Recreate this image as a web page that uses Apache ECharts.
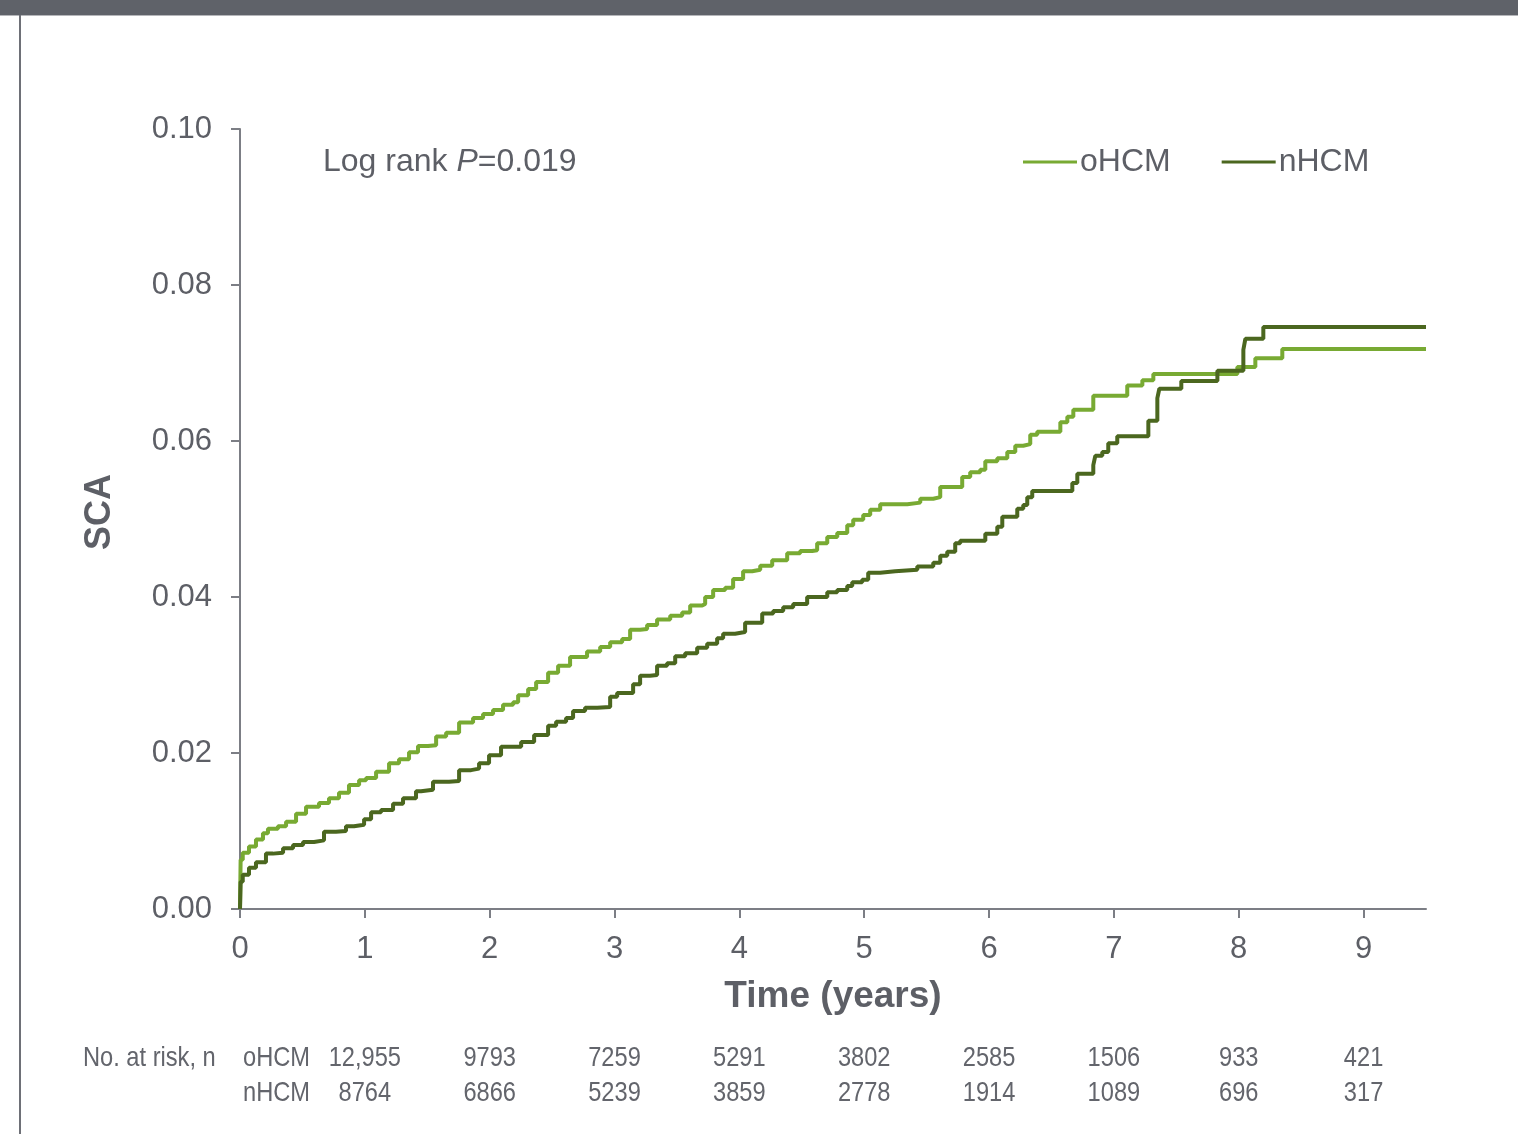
<!DOCTYPE html>
<html>
<head>
<meta charset="utf-8">
<script src="https://cdn.jsdelivr.net/npm/echarts@6/dist/echarts.min.js"></script>
<style>
html,body{margin:0;padding:0;background:#fff;}
#c{width:1518px;height:1134px;}
</style>
</head>
<body>
<div id="c"></div>
<script>
// ---- Data ----
const oTime = [0, 0.005, 0.022, 0.072, 0.128, 0.184, 0.224, 0.304, 0.369, 0.449, 0.529, 0.633, 0.713, 0.793, 0.873, 0.954, 1.010, 1.090, 1.194, 1.274, 1.354, 1.426, 1.506, 1.571, 1.651, 1.755, 1.867, 1.947, 2.027, 2.107, 2.188, 2.228, 2.308, 2.372, 2.468, 2.548, 2.644, 2.780, 2.885, 2.965, 3.061, 3.125, 3.205, 3.261, 3.341, 3.446, 3.542, 3.606, 3.702, 3.726, 3.790, 3.886, 3.950, 4.030, 4.103, 4.167, 4.263, 4.383, 4.487, 4.583, 4.623, 4.704, 4.784, 4.864, 4.912, 4.992, 5.048, 5.128, 5.345, 5.449, 5.553, 5.609, 5.785, 5.849, 5.929, 5.970, 6.066, 6.146, 6.210, 6.274, 6.330, 6.386, 6.571, 6.627, 6.675, 6.835, 7.107, 7.228, 7.316, 7.989, 8.133, 8.349, 9.5];
const oSCA = [0, 0.0063, 0.0072, 0.0080, 0.0089, 0.0097, 0.0103, 0.0106, 0.0112, 0.0122, 0.0131, 0.0136, 0.0142, 0.0149, 0.0159, 0.0165, 0.0168, 0.0176, 0.0187, 0.0192, 0.0201, 0.0209, 0.0210, 0.0221, 0.0226, 0.0239, 0.0245, 0.0250, 0.0255, 0.0262, 0.0265, 0.0274, 0.0282, 0.0291, 0.0303, 0.0312, 0.0323, 0.0330, 0.0336, 0.0342, 0.0346, 0.0358, 0.0359, 0.0364, 0.0371, 0.0376, 0.0380, 0.0389, 0.0391, 0.0400, 0.0409, 0.0412, 0.0423, 0.0433, 0.0435, 0.0440, 0.0447, 0.0456, 0.0459, 0.0460, 0.0469, 0.0477, 0.0482, 0.0492, 0.0499, 0.0505, 0.0512, 0.0519, 0.0521, 0.0526, 0.0528, 0.0541, 0.0554, 0.0560, 0.0563, 0.0574, 0.0578, 0.0586, 0.0594, 0.0596, 0.0608, 0.0612, 0.0624, 0.0631, 0.0640, 0.0658, 0.0671, 0.0678, 0.0686, 0.0695, 0.0706, 0.0718, 0.0718];

const nTime = [0, 0.005, 0.022, 0.072, 0.128, 0.208, 0.264, 0.345, 0.425, 0.505, 0.593, 0.673, 0.769, 0.849, 0.913, 0.994, 1.050, 1.130, 1.226, 1.306, 1.410, 1.450, 1.546, 1.675, 1.755, 1.851, 1.915, 1.995, 2.091, 2.252, 2.356, 2.468, 2.532, 2.612, 2.668, 2.764, 2.861, 2.965, 3.021, 3.149, 3.205, 3.285, 3.341, 3.421, 3.486, 3.566, 3.662, 3.742, 3.822, 3.870, 3.966, 4.046, 4.183, 4.271, 4.351, 4.431, 4.543, 4.704, 4.784, 4.864, 4.904, 4.984, 5.032, 5.128, 5.248, 5.425, 5.553, 5.609, 5.665, 5.729, 5.769, 5.970, 6.066, 6.106, 6.226, 6.274, 6.306, 6.346, 6.667, 6.707, 6.835, 6.851, 6.907, 6.955, 7.027, 7.276, 7.348, 7.364, 7.540, 7.829, 8.037, 8.053, 8.197, 9.5];
const nSCA = [0, 0.0035, 0.0044, 0.0053, 0.0060, 0.0071, 0.0072, 0.0078, 0.0082, 0.0086, 0.0088, 0.0099, 0.0100, 0.0106, 0.0108, 0.0115, 0.0124, 0.0127, 0.0135, 0.0142, 0.0151, 0.0153, 0.0163, 0.0164, 0.0178, 0.0180, 0.0187, 0.0197, 0.0208, 0.0214, 0.0223, 0.0235, 0.0240, 0.0245, 0.0254, 0.0258, 0.0259, 0.0272, 0.0277, 0.0288, 0.0299, 0.0300, 0.0312, 0.0315, 0.0324, 0.0328, 0.0335, 0.0340, 0.0347, 0.0353, 0.0355, 0.0367, 0.0379, 0.0382, 0.0387, 0.0391, 0.0400, 0.0406, 0.0409, 0.0414, 0.0419, 0.0422, 0.0431, 0.0433, 0.0435, 0.0439, 0.0444, 0.0453, 0.0458, 0.0469, 0.0472, 0.0481, 0.0490, 0.0503, 0.0513, 0.0518, 0.0528, 0.0536, 0.0546, 0.0558, 0.0569, 0.0581, 0.0586, 0.0597, 0.0606, 0.0626, 0.0655, 0.0667, 0.0677, 0.0690, 0.0717, 0.0731, 0.0746, 0.0746];

const seriesNames = ['oHCM', 'nHCM'];
const xTicks = [0, 1, 2, 3, 4, 5, 6, 7, 8, 9];
const riskColumns = [1, 2, 3, 4, 5, 6, 7, 8, 9];   // x positions of the risk table columns
const riskO = ['12,955', '9793', '7259', '5291', '3802', '2585', '1506', '933', '421'];
const riskN = ['8764', '6866', '5239', '3859', '2778', '1914', '1089', '696', '317'];
const pText = '0.019';

const GREY = '#5d5f66';
const AXIS = '#7c7e85';
const C_O = '#78aa33';
const C_N = '#4b671f';
const FONT = 'Liberation Sans, Arial, sans-serif';

const zip = (a, b) => a.map((t, i) => [t, b[i]]);

const chart = echarts.init(document.getElementById('c'), null, {renderer: 'canvas'});

const option = {
  backgroundColor: '#ffffff',
  animation: false,
  textStyle: {fontFamily: FONT},
  grid: {left: 240, right: 92, top: 129, bottom: 225, containLabel: false},
  legend: {
    data: seriesNames,
    left: 1023, top: 146, padding: 0,
    icon: 'rect', itemWidth: 54, itemHeight: 3, itemGap: 51,
    textStyle: {color: GREY, fontSize: 32, fontFamily: FONT, padding: [0, 0, 0, -2]}
  },
  xAxis: {
    type: 'value', min: 0, max: 9.5, interval: 1,
    axisLine: {show: true, lineStyle: {color: AXIS, width: 2}},
    axisTick: {show: true, length: 9, lineStyle: {color: AXIS, width: 2}, customValues: xTicks},
    axisLabel: {color: GREY, fontSize: 31, margin: 25, fontFamily: FONT, customValues: xTicks,
      formatter: v => String(v)},
    splitLine: {show: false}
  },
  yAxis: {
    type: 'value', min: 0, max: 0.1, interval: 0.02,
    axisLine: {show: true, lineStyle: {color: AXIS, width: 2}},
    axisTick: {show: true, length: 9, lineStyle: {color: AXIS, width: 2}},
    axisLabel: {color: GREY, fontSize: 31, margin: 28, fontFamily: FONT, formatter: v => v.toFixed(2)},
    splitLine: {show: false}
  },
  series: [
    {name: seriesNames[0], type: 'line', step: 'end', showSymbol: false, symbol: 'none',
     data: zip(oTime, oSCA), lineStyle: {color: C_O, width: 4}, itemStyle: {color: C_O}, z: 2},
    {name: seriesNames[1], type: 'line', step: 'end', showSymbol: false, symbol: 'none',
     data: zip(nTime, nSCA), lineStyle: {color: C_N, width: 4}, itemStyle: {color: C_N}, z: 3}
  ]
};
chart.setOption(option);

// ---- Annotations and risk table ----
const g = [];
// header band and frame
g.push({type: 'rect', shape: {x: 0, y: 0, width: 1518, height: 15}, style: {fill: '#5f6269'}, z: 10});
g.push({type: 'rect', shape: {x: 0, y: 15, width: 1518, height: 1}, style: {fill: '#b5b6ba'}, z: 10});
g.push({type: 'rect', shape: {x: 19, y: 15, width: 2, height: 1119}, style: {fill: '#6e7077'}, z: 10});

// Log rank text
g.push({type: 'text', x: 323, y: 162, z: 10, style: {
  text: '{a|Log rank }{b|P}{a|=' + pText + '}',
  verticalAlign: 'middle', align: 'left',
  rich: {
    a: {fontSize: 32, fill: GREY, fontFamily: FONT},
    b: {fontSize: 32, fill: GREY, fontFamily: FONT, fontStyle: 'italic'}
  }
}});
// axis titles
g.push({type: 'text', x: 833, y: 997, z: 10, style: {
  text: 'Time (years)', align: 'center', verticalAlign: 'middle',
  fontSize: 37, fontWeight: 'bold', fill: GREY, fontFamily: FONT}});
g.push({type: 'text', x: 100, y: 512, rotation: Math.PI / 2, z: 10, style: {
  text: 'SCA', align: 'center', verticalAlign: 'middle',
  fontSize: 36, fontWeight: 'bold', fill: GREY, fontFamily: FONT}});

// risk table
const narrow = (txt, x, y, align) => ({type: 'text', x: x, y: y, scaleX: 0.86, z: 10, style: {
  text: txt, x: 0, y: 0, align: align || 'center', verticalAlign: 'middle',
  fontSize: 27.5, fill: '#63656c', fontFamily: FONT}});
g.push(narrow('No. at risk, n', 83, 1058, 'left'));
g.push(narrow(seriesNames[0], 243, 1058, 'left'));
g.push(narrow(seriesNames[1], 243, 1093, 'left'));
riskColumns.forEach((t, i) => {
  const px = chart.convertToPixel({xAxisIndex: 0}, t);
  g.push(narrow(riskO[i], px, 1058));
  g.push(narrow(riskN[i], px, 1093));
});
chart.setOption({graphic: g});
</script>
</body>
</html>
